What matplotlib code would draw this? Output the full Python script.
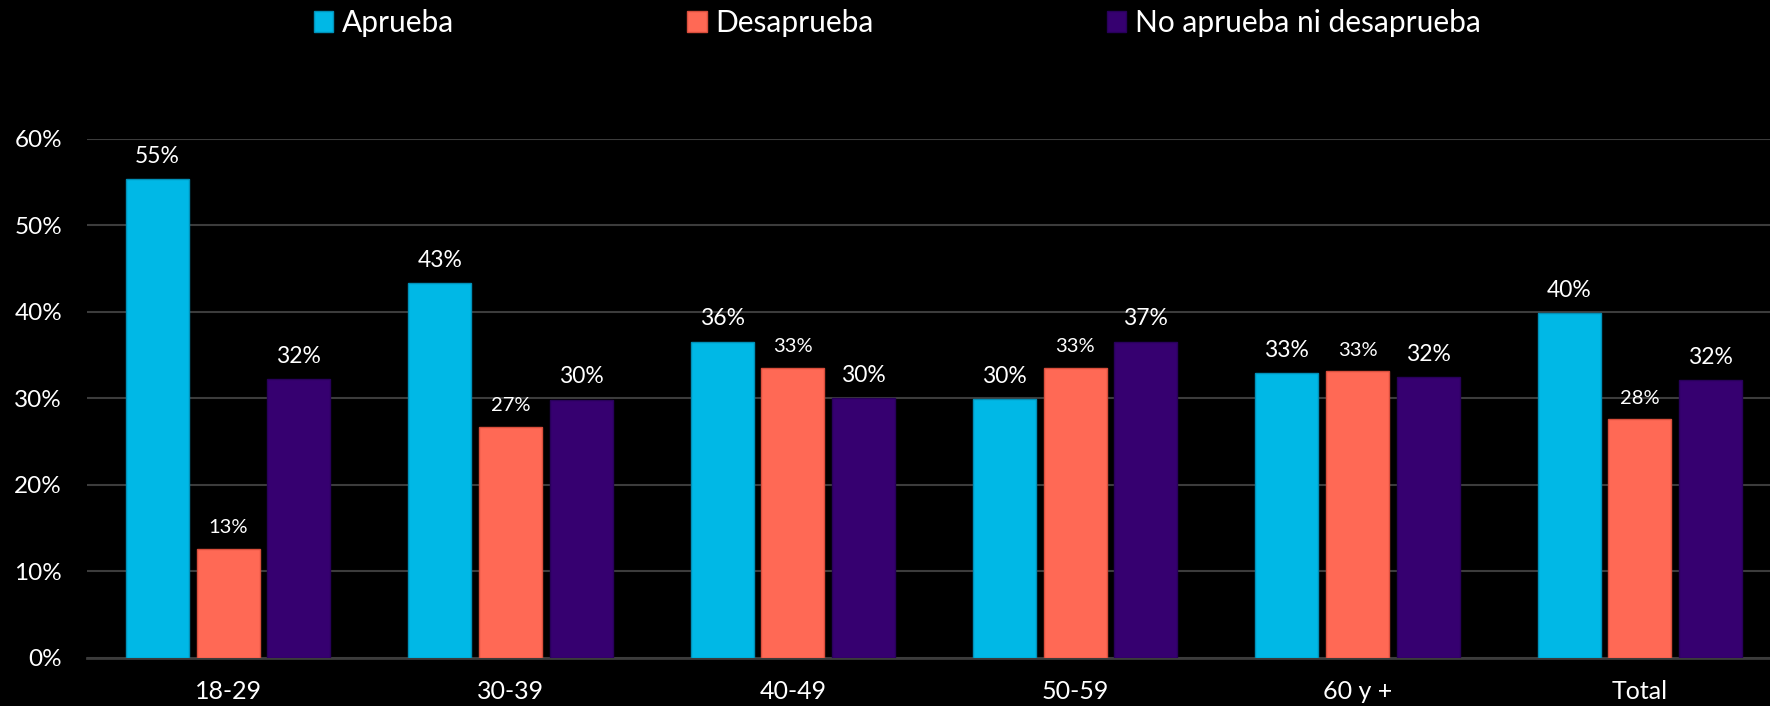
import numpy as np
import matplotlib
matplotlib.use('Agg')
import matplotlib.pyplot as plt
from matplotlib.ticker import PercentFormatter

plt.rcParams['font.family'] = ['Lato', 'DejaVu Sans']

# DATOS
categorias = ['18-29', '30-39', '40-49', '50-59', '60 y +', 'Total']
series = ['Aprueba', 'Desaprueba', 'No aprueba ni desaprueba']
aprueba = [55.3, 43.3, 36.5, 29.9, 32.9, 39.8]
desaprueba = [12.6, 26.7, 33.5, 33.5, 33.1, 27.6]
ni_ni = [32.2, 29.8, 30.0, 36.5, 32.4, 32.1]
etiquetas_aprueba = ['55%', '43%', '36%', '30%', '33%', '40%']
etiquetas_desaprueba = ['13%', '27%', '33%', '33%', '33%', '28%']
etiquetas_ni_ni = ['32%', '30%', '30%', '37%', '32%', '32%']

COLORES = ['#00B8E6', '#FF6955', '#360070']
BORDES = ['#0090B8', '#D94E3C', '#28005A']
TAM_ETIQUETA = [16.5, 14.5, 16.5]

fig = plt.figure(figsize=(17.7, 7.06), dpi=100, facecolor='black')
ax = fig.add_axes([87 / 1770, (706 - 658) / 706, (1781 - 87) / 1770, (658 - 138.5) / 706])
ax.set_facecolor('black')

x = np.arange(len(categorias))
ancho = 0.223
desplaz = 0.25

datos = [aprueba, desaprueba, ni_ni]
etiquetas = [etiquetas_aprueba, etiquetas_desaprueba, etiquetas_ni_ni]
for i, (vals, nombre) in enumerate(zip(datos, series)):
    pos = x + (i - 1) * desplaz
    barras = ax.bar(pos, vals, width=ancho, color=COLORES[i], edgecolor=BORDES[i],
                    linewidth=1, label=nombre, zorder=3)
    for b, txt in zip(barras, etiquetas[i]):
        ax.annotate(txt, (b.get_x() + b.get_width() / 2, b.get_height()),
                    xytext=(0, 9), textcoords='offset points', ha='center', va='bottom',
                    color='white', fontsize=TAM_ETIQUETA[i], clip_on=False)

ax.set_xlim(-0.5, len(categorias) - 0.5)
ax.set_ylim(0, 60)
ax.set_yticks(np.arange(0, 61, 10))
ax.yaxis.set_major_formatter(PercentFormatter(decimals=0))
ax.set_xticks(x)
ax.set_xticklabels(categorias)
ax.grid(axis='y', color='#3C3C3C', linewidth=1.5, zorder=0)
ax.set_axisbelow(True)
for s in ['top', 'right', 'left']:
    ax.spines[s].set_visible(False)
ax.spines['bottom'].set_color('#3C3C3C')
ax.spines['bottom'].set_linewidth(2)
ax.tick_params(axis='both', length=0, colors='white')
ax.tick_params(axis='y', labelsize=17.5, pad=18)
ax.tick_params(axis='x', labelsize=18, pad=16)

leg = fig.legend(loc='center', bbox_to_anchor=(0.507, 0.968), ncol=3, frameon=False,
                 fontsize=21.5, labelcolor='white', handlelength=0.65, handleheight=0.7,
                 handletextpad=0.3, columnspacing=7.8)

plt.savefig('out.png', dpi=100, facecolor='black')
